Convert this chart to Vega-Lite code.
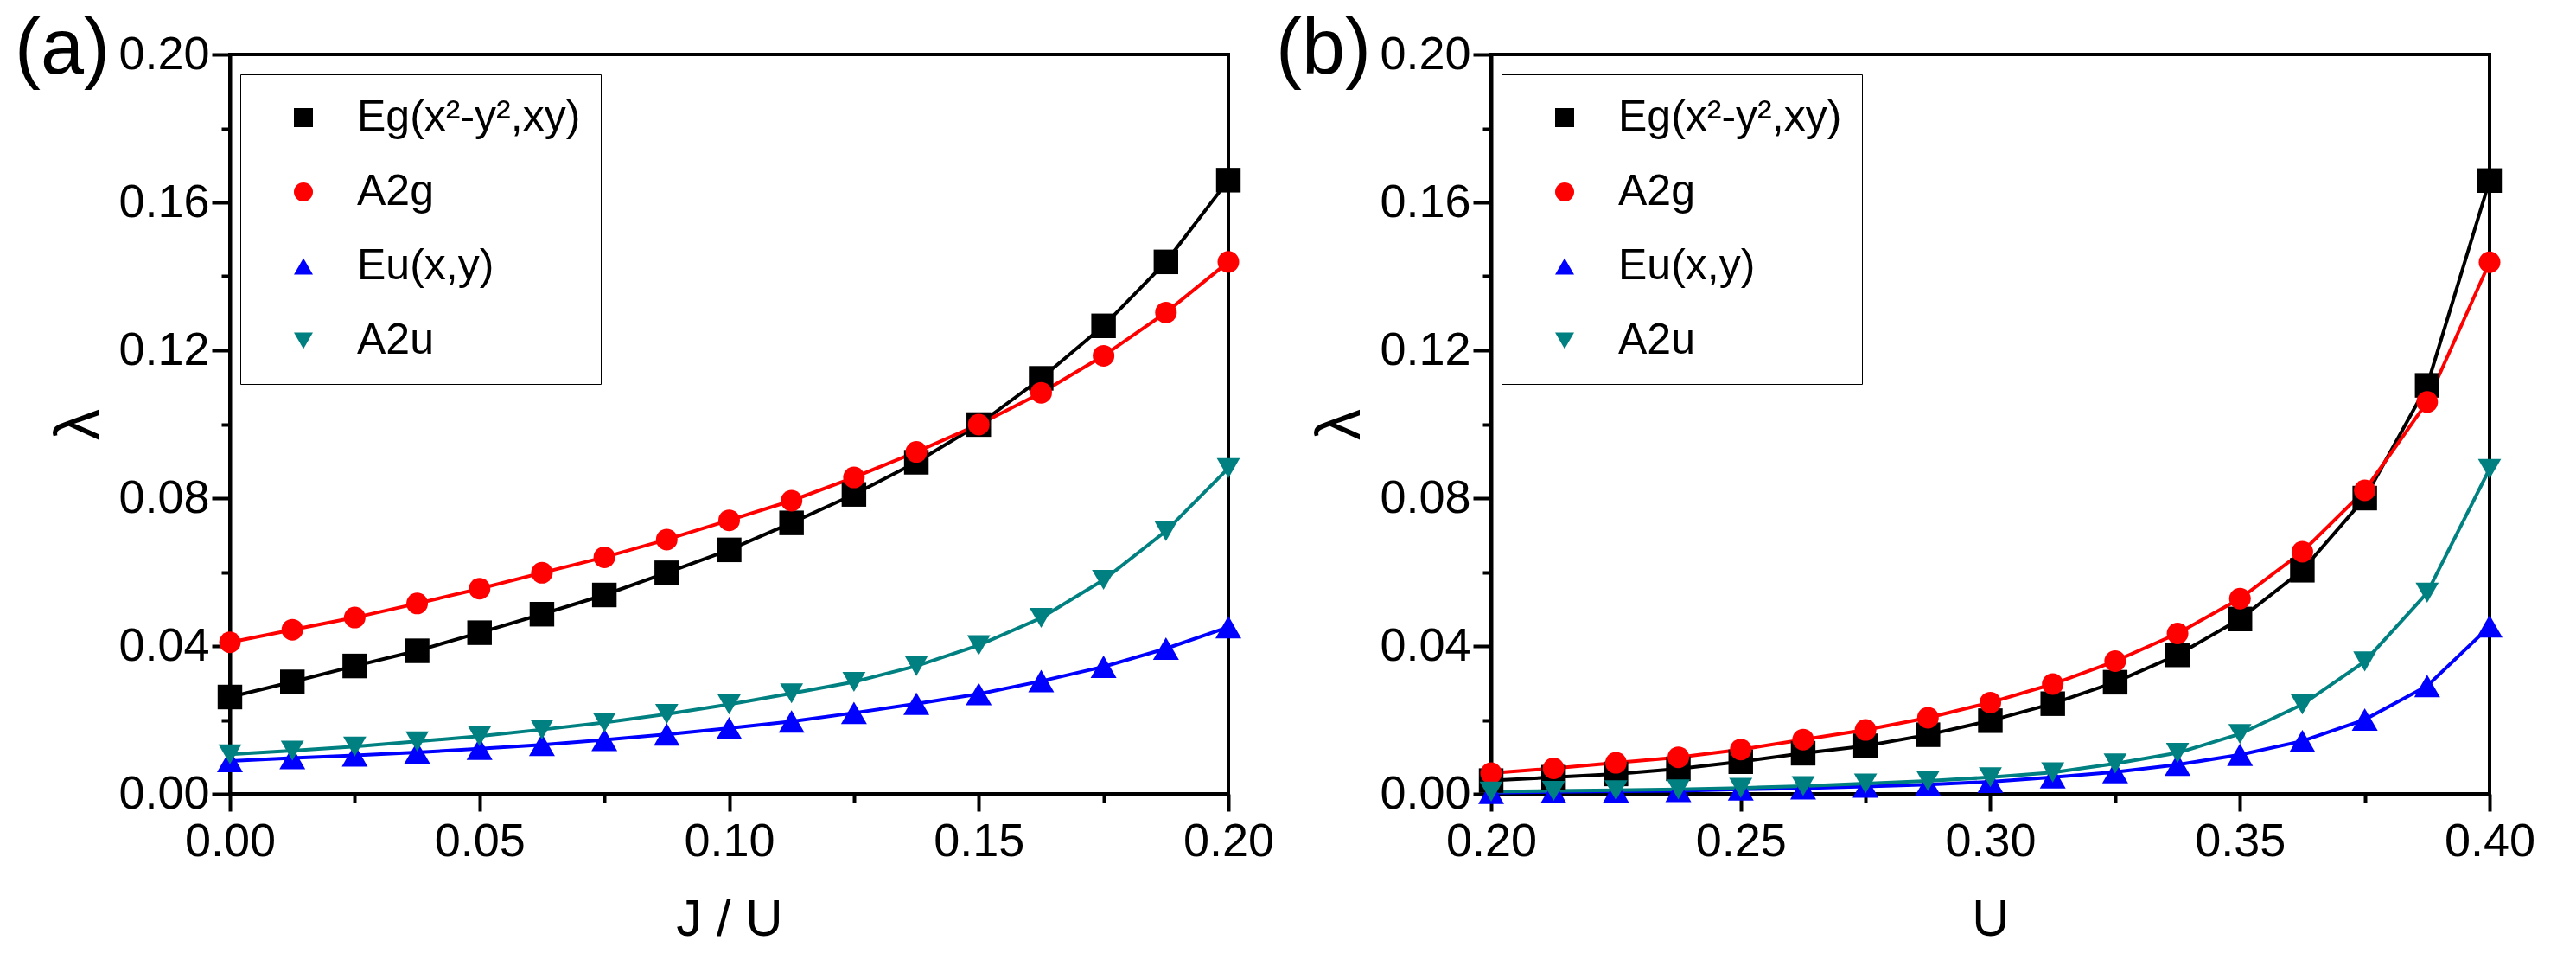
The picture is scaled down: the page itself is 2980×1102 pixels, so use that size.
{
  "$schema": "https://vega.github.io/schema/vega-lite/v6.json",
  "padding": {"left": 15, "top": 11, "right": 5, "bottom": 5},
  "background": "white",
  "spacing": 304,
  "bounds": "flush",
  "config": {
    "view": {"stroke": "black", "strokeWidth": 4},
    "axis": {"grid": false, "domainColor": "black", "tickColor": "black", "labelColor": "black", "titleColor": "black"}
  },
  "datasets": {
    "a": [
      {"x": 0, "s": "Eg(x²-y²,xy)", "y": 0.0262}, {"x": 0.0125, "s": "Eg(x²-y²,xy)", "y": 0.0303}, {"x": 0.025, "s": "Eg(x²-y²,xy)", "y": 0.0346}, {"x": 0.0375, "s": "Eg(x²-y²,xy)", "y": 0.0387}, {"x": 0.05, "s": "Eg(x²-y²,xy)", "y": 0.0436}, {"x": 0.0625, "s": "Eg(x²-y²,xy)", "y": 0.0486}, {"x": 0.075, "s": "Eg(x²-y²,xy)", "y": 0.0538}, {"x": 0.0875, "s": "Eg(x²-y²,xy)", "y": 0.0598}, {"x": 0.1, "s": "Eg(x²-y²,xy)", "y": 0.066}, {"x": 0.1125, "s": "Eg(x²-y²,xy)", "y": 0.0733}, {"x": 0.125, "s": "Eg(x²-y²,xy)", "y": 0.081}, {"x": 0.1375, "s": "Eg(x²-y²,xy)", "y": 0.0897}, {"x": 0.15, "s": "Eg(x²-y²,xy)", "y": 0.0999}, {"x": 0.1625, "s": "Eg(x²-y²,xy)", "y": 0.1124}, {"x": 0.175, "s": "Eg(x²-y²,xy)", "y": 0.1266}, {"x": 0.1875, "s": "Eg(x²-y²,xy)", "y": 0.1439}, {"x": 0.2, "s": "Eg(x²-y²,xy)", "y": 0.166},
      {"x": 0, "s": "A2g", "y": 0.041}, {"x": 0.0125, "s": "A2g", "y": 0.0444}, {"x": 0.025, "s": "A2g", "y": 0.0477}, {"x": 0.0375, "s": "A2g", "y": 0.0515}, {"x": 0.05, "s": "A2g", "y": 0.0555}, {"x": 0.0625, "s": "A2g", "y": 0.0598}, {"x": 0.075, "s": "A2g", "y": 0.064}, {"x": 0.0875, "s": "A2g", "y": 0.0688}, {"x": 0.1, "s": "A2g", "y": 0.074}, {"x": 0.1125, "s": "A2g", "y": 0.0793}, {"x": 0.125, "s": "A2g", "y": 0.0856}, {"x": 0.1375, "s": "A2g", "y": 0.0925}, {"x": 0.15, "s": "A2g", "y": 0.0999}, {"x": 0.1625, "s": "A2g", "y": 0.1085}, {"x": 0.175, "s": "A2g", "y": 0.1185}, {"x": 0.1875, "s": "A2g", "y": 0.1302}, {"x": 0.2, "s": "A2g", "y": 0.1439},
      {"x": 0, "s": "Eu(x,y)", "y": 0.0089}, {"x": 0.0125, "s": "Eu(x,y)", "y": 0.0097}, {"x": 0.025, "s": "Eu(x,y)", "y": 0.0104}, {"x": 0.0375, "s": "Eu(x,y)", "y": 0.0112}, {"x": 0.05, "s": "Eu(x,y)", "y": 0.0122}, {"x": 0.0625, "s": "Eu(x,y)", "y": 0.0133}, {"x": 0.075, "s": "Eu(x,y)", "y": 0.0146}, {"x": 0.0875, "s": "Eu(x,y)", "y": 0.0161}, {"x": 0.1, "s": "Eu(x,y)", "y": 0.0178}, {"x": 0.1125, "s": "Eu(x,y)", "y": 0.0196}, {"x": 0.125, "s": "Eu(x,y)", "y": 0.0219}, {"x": 0.1375, "s": "Eu(x,y)", "y": 0.0244}, {"x": 0.15, "s": "Eu(x,y)", "y": 0.027}, {"x": 0.1625, "s": "Eu(x,y)", "y": 0.0305}, {"x": 0.175, "s": "Eu(x,y)", "y": 0.0344}, {"x": 0.1875, "s": "Eu(x,y)", "y": 0.0393}, {"x": 0.2, "s": "Eu(x,y)", "y": 0.0451},
      {"x": 0, "s": "A2u", "y": 0.0107}, {"x": 0.0125, "s": "A2u", "y": 0.0117}, {"x": 0.025, "s": "A2u", "y": 0.0128}, {"x": 0.0375, "s": "A2u", "y": 0.0142}, {"x": 0.05, "s": "A2u", "y": 0.0156}, {"x": 0.0625, "s": "A2u", "y": 0.0174}, {"x": 0.075, "s": "A2u", "y": 0.0193}, {"x": 0.0875, "s": "A2u", "y": 0.0216}, {"x": 0.1, "s": "A2u", "y": 0.0242}, {"x": 0.1125, "s": "A2u", "y": 0.0272}, {"x": 0.125, "s": "A2u", "y": 0.0303}, {"x": 0.1375, "s": "A2u", "y": 0.0346}, {"x": 0.15, "s": "A2u", "y": 0.0402}, {"x": 0.1625, "s": "A2u", "y": 0.0476}, {"x": 0.175, "s": "A2u", "y": 0.0579}, {"x": 0.1875, "s": "A2u", "y": 0.0711}, {"x": 0.2, "s": "A2u", "y": 0.0881}
    ],
    "b": [
      {"x": 0.2, "s": "Eg(x²-y²,xy)", "y": 0.0036}, {"x": 0.2125, "s": "Eg(x²-y²,xy)", "y": 0.0045}, {"x": 0.225, "s": "Eg(x²-y²,xy)", "y": 0.0054}, {"x": 0.2375, "s": "Eg(x²-y²,xy)", "y": 0.0068}, {"x": 0.25, "s": "Eg(x²-y²,xy)", "y": 0.0087}, {"x": 0.2625, "s": "Eg(x²-y²,xy)", "y": 0.011}, {"x": 0.275, "s": "Eg(x²-y²,xy)", "y": 0.013}, {"x": 0.2875, "s": "Eg(x²-y²,xy)", "y": 0.016}, {"x": 0.3, "s": "Eg(x²-y²,xy)", "y": 0.0198}, {"x": 0.3125, "s": "Eg(x²-y²,xy)", "y": 0.0244}, {"x": 0.325, "s": "Eg(x²-y²,xy)", "y": 0.0302}, {"x": 0.3375, "s": "Eg(x²-y²,xy)", "y": 0.0376}, {"x": 0.35, "s": "Eg(x²-y²,xy)", "y": 0.0473}, {"x": 0.3625, "s": "Eg(x²-y²,xy)", "y": 0.0605}, {"x": 0.375, "s": "Eg(x²-y²,xy)", "y": 0.08}, {"x": 0.3875, "s": "Eg(x²-y²,xy)", "y": 0.1105}, {"x": 0.4, "s": "Eg(x²-y²,xy)", "y": 0.1659},
      {"x": 0.2, "s": "A2g", "y": 0.0056}, {"x": 0.2125, "s": "A2g", "y": 0.0069}, {"x": 0.225, "s": "A2g", "y": 0.0084}, {"x": 0.2375, "s": "A2g", "y": 0.0099}, {"x": 0.25, "s": "A2g", "y": 0.012}, {"x": 0.2625, "s": "A2g", "y": 0.0147}, {"x": 0.275, "s": "A2g", "y": 0.0173}, {"x": 0.2875, "s": "A2g", "y": 0.0206}, {"x": 0.3, "s": "A2g", "y": 0.0247}, {"x": 0.3125, "s": "A2g", "y": 0.0297}, {"x": 0.325, "s": "A2g", "y": 0.0359}, {"x": 0.3375, "s": "A2g", "y": 0.0434}, {"x": 0.35, "s": "A2g", "y": 0.0528}, {"x": 0.3625, "s": "A2g", "y": 0.0655}, {"x": 0.375, "s": "A2g", "y": 0.0821}, {"x": 0.3875, "s": "A2g", "y": 0.106}, {"x": 0.4, "s": "A2g", "y": 0.1438},
      {"x": 0.2, "s": "Eu(x,y)", "y": 0.0003}, {"x": 0.2125, "s": "Eu(x,y)", "y": 0.0005}, {"x": 0.225, "s": "Eu(x,y)", "y": 0.0007}, {"x": 0.2375, "s": "Eu(x,y)", "y": 0.0008}, {"x": 0.25, "s": "Eu(x,y)", "y": 0.0012}, {"x": 0.2625, "s": "Eu(x,y)", "y": 0.0015}, {"x": 0.275, "s": "Eu(x,y)", "y": 0.002}, {"x": 0.2875, "s": "Eu(x,y)", "y": 0.0025}, {"x": 0.3, "s": "Eu(x,y)", "y": 0.0033}, {"x": 0.3125, "s": "Eu(x,y)", "y": 0.0045}, {"x": 0.325, "s": "Eu(x,y)", "y": 0.0059}, {"x": 0.3375, "s": "Eu(x,y)", "y": 0.0079}, {"x": 0.35, "s": "Eu(x,y)", "y": 0.0106}, {"x": 0.3625, "s": "Eu(x,y)", "y": 0.0143}, {"x": 0.375, "s": "Eu(x,y)", "y": 0.0201}, {"x": 0.3875, "s": "Eu(x,y)", "y": 0.0292}, {"x": 0.4, "s": "Eu(x,y)", "y": 0.0453},
      {"x": 0.2, "s": "A2u", "y": 0.0006}, {"x": 0.2125, "s": "A2u", "y": 0.0008}, {"x": 0.225, "s": "A2u", "y": 0.001}, {"x": 0.2375, "s": "A2u", "y": 0.0012}, {"x": 0.25, "s": "A2u", "y": 0.0016}, {"x": 0.2625, "s": "A2u", "y": 0.0021}, {"x": 0.275, "s": "A2u", "y": 0.0028}, {"x": 0.2875, "s": "A2u", "y": 0.0035}, {"x": 0.3, "s": "A2u", "y": 0.0045}, {"x": 0.3125, "s": "A2u", "y": 0.0058}, {"x": 0.325, "s": "A2u", "y": 0.0082}, {"x": 0.3375, "s": "A2u", "y": 0.0111}, {"x": 0.35, "s": "A2u", "y": 0.0162}, {"x": 0.3625, "s": "A2u", "y": 0.0242}, {"x": 0.375, "s": "A2u", "y": 0.0358}, {"x": 0.3875, "s": "A2u", "y": 0.0544}, {"x": 0.4, "s": "A2u", "y": 0.0879}
    ]
  },
  "resolve": {
    "scale": {"color": "independent", "stroke": "independent", "shape": "independent", "size": "independent"},
    "legend": {"color": "independent", "stroke": "independent", "shape": "independent", "size": "independent"}
  },
  "hconcat": [
    {
      "width": 1155, "height": 855,
      "data": {"name": "a"},
      "title": {"text": "(a)", "anchor": "start", "frame": "group", "dx": -249, "dy": 139, "offset": 0, "baseline": "alphabetic", "fontSize": 90, "font": "Liberation Sans", "fontWeight": "normal", "color": "black"},
      "resolve": {"axis": {"x": "independent", "y": "independent"}},
      "layer": [
        {
          "mark": {"type": "line", "strokeWidth": 4},
          "encoding": {
            "x": {"field": "x", "type": "quantitative", "scale": {"domain": [0, 0.2], "nice": false, "zero": false},
              "axis": {"orient": "bottom", "values": [0, 0.05, 0.1, 0.15, 0.2], "format": ".2f", "labelFont": "Liberation Sans", "labelFontSize": 54, "labelFlush": false, "labelOverlap": false, "labelPadding": 8, "tickSize": 20, "tickWidth": 4, "domainWidth": 4, "title": "J / U", "titleFont": "Liberation Sans", "titleFontSize": 60, "titleFontWeight": "normal", "titlePadding": 34}},
            "y": {"field": "y", "type": "quantitative", "scale": {"domain": [0, 0.2], "nice": false, "zero": false},
              "axis": {"orient": "left", "values": [0, 0.04, 0.08, 0.12, 0.16, 0.2], "format": ".2f", "labelFont": "Liberation Sans", "labelFontSize": 54, "labelFlush": false, "labelOverlap": false, "labelPadding": 3, "tickSize": 21, "tickWidth": 4, "domainWidth": 4, "title": "λ", "titleFont": "Liberation Sans", "titleFontSize": 72, "titleFontWeight": "normal", "titlePadding": 8}},
            "stroke": {"field": "s", "type": "nominal", "scale": {"domain": ["A2g", "A2u", "Eg(x²-y²,xy)", "Eu(x,y)"], "range": ["#ff0000", "#008080", "#000000", "#0000ff"]}, "legend": null}
          }
        },
        {
          "mark": {"type": "point", "filled": true, "opacity": 1},
          "encoding": {
            "x": {"field": "x", "type": "quantitative", "axis": {"orient": "bottom", "values": [0.025, 0.075, 0.125, 0.175], "labels": false, "domain": false, "tickSize": 10, "tickWidth": 4, "title": null}},
            "y": {"field": "y", "type": "quantitative", "axis": {"orient": "left", "values": [0.02, 0.06, 0.1, 0.14, 0.18], "labels": false, "domain": false, "tickSize": 10, "tickWidth": 4, "title": null}},
            "color": {"field": "s", "type": "nominal", "scale": {"domain": ["Eg(x²-y²,xy)", "A2g", "Eu(x,y)", "A2u"], "range": ["#000000", "#ff0000", "#0000ff", "#008080"]},
              "legend": {"orient": "none", "legendX": 12, "legendY": 23, "title": null, "padding": 23, "strokeColor": "black", "fillColor": "white", "symbolSize": 484, "symbolOffset": 25, "symbolStrokeWidth": 3.5, "symbolOpacity": 1, "labelOffset": 37, "labelFont": "Liberation Sans", "labelFontSize": 50, "labelColor": "black", "labelLimit": 600, "clipHeight": 54, "rowPadding": 32}},
            "shape": {"field": "s", "type": "nominal", "scale": {"domain": ["Eg(x²-y²,xy)", "A2g", "Eu(x,y)", "A2u"], "range": ["square", "circle", "triangle-up", "triangle-down"]}},
            "size": {"field": "s", "type": "nominal", "scale": {"domain": ["A2g", "A2u", "Eg(x²-y²,xy)", "Eu(x,y)"], "range": [625, 900, 484, 900]}, "legend": null}
          }
        }
      ]
    },
    {
      "width": 1155, "height": 855,
      "data": {"name": "b"},
      "title": {"text": "(b)", "anchor": "start", "frame": "group", "dx": -249, "dy": 139, "offset": 0, "baseline": "alphabetic", "fontSize": 90, "font": "Liberation Sans", "fontWeight": "normal", "color": "black"},
      "resolve": {"axis": {"x": "independent", "y": "independent"}},
      "layer": [
        {
          "mark": {"type": "line", "strokeWidth": 4},
          "encoding": {
            "x": {"field": "x", "type": "quantitative", "scale": {"domain": [0.2, 0.4], "nice": false, "zero": false},
              "axis": {"orient": "bottom", "values": [0.2, 0.25, 0.3, 0.35, 0.4], "format": ".2f", "labelFont": "Liberation Sans", "labelFontSize": 54, "labelFlush": false, "labelOverlap": false, "labelPadding": 8, "tickSize": 20, "tickWidth": 4, "domainWidth": 4, "title": "U", "titleFont": "Liberation Sans", "titleFontSize": 60, "titleFontWeight": "normal", "titlePadding": 34}},
            "y": {"field": "y", "type": "quantitative", "scale": {"domain": [0, 0.2], "nice": false, "zero": false},
              "axis": {"orient": "left", "values": [0, 0.04, 0.08, 0.12, 0.16, 0.2], "format": ".2f", "labelFont": "Liberation Sans", "labelFontSize": 54, "labelFlush": false, "labelOverlap": false, "labelPadding": 3, "tickSize": 21, "tickWidth": 4, "domainWidth": 4, "title": "λ", "titleFont": "Liberation Sans", "titleFontSize": 72, "titleFontWeight": "normal", "titlePadding": 8}},
            "stroke": {"field": "s", "type": "nominal", "scale": {"domain": ["A2g", "A2u", "Eg(x²-y²,xy)", "Eu(x,y)"], "range": ["#ff0000", "#008080", "#000000", "#0000ff"]}, "legend": null}
          }
        },
        {
          "mark": {"type": "point", "filled": true, "opacity": 1},
          "encoding": {
            "x": {"field": "x", "type": "quantitative", "axis": {"orient": "bottom", "values": [0.225, 0.275, 0.325, 0.375], "labels": false, "domain": false, "tickSize": 10, "tickWidth": 4, "title": null}},
            "y": {"field": "y", "type": "quantitative", "axis": {"orient": "left", "values": [0.02, 0.06, 0.1, 0.14, 0.18], "labels": false, "domain": false, "tickSize": 10, "tickWidth": 4, "title": null}},
            "color": {"field": "s", "type": "nominal", "scale": {"domain": ["Eg(x²-y²,xy)", "A2g", "Eu(x,y)", "A2u"], "range": ["#000000", "#ff0000", "#0000ff", "#008080"]},
              "legend": {"orient": "none", "legendX": 12, "legendY": 23, "title": null, "padding": 23, "strokeColor": "black", "fillColor": "white", "symbolSize": 484, "symbolOffset": 25, "symbolStrokeWidth": 3.5, "symbolOpacity": 1, "labelOffset": 37, "labelFont": "Liberation Sans", "labelFontSize": 50, "labelColor": "black", "labelLimit": 600, "clipHeight": 54, "rowPadding": 32}},
            "shape": {"field": "s", "type": "nominal", "scale": {"domain": ["Eg(x²-y²,xy)", "A2g", "Eu(x,y)", "A2u"], "range": ["square", "circle", "triangle-up", "triangle-down"]}},
            "size": {"field": "s", "type": "nominal", "scale": {"domain": ["A2g", "A2u", "Eg(x²-y²,xy)", "Eu(x,y)"], "range": [625, 900, 484, 900]}, "legend": null}
          }
        }
      ]
    }
  ]
}
